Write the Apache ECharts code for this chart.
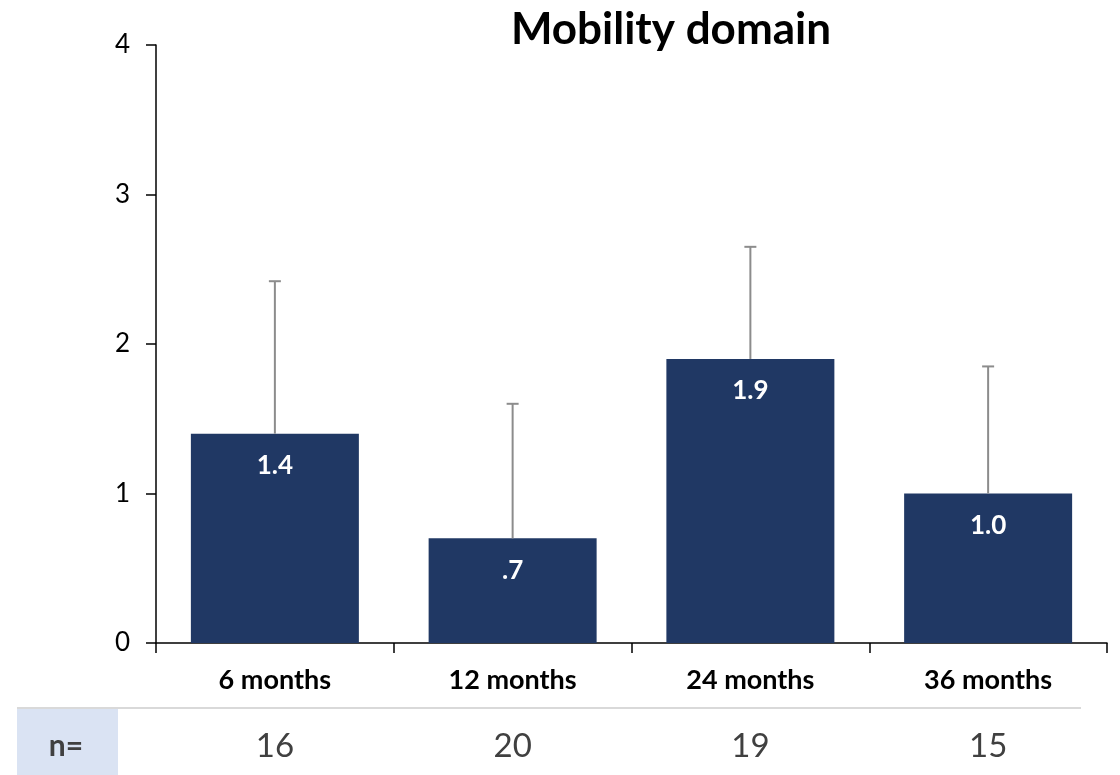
<!DOCTYPE html>
<html>
<head>
<meta charset="utf-8">
<script src="https://cdn.jsdelivr.net/npm/echarts@6/dist/echarts.min.js"></script>
<style>html,body{margin:0;padding:0;background:#fff}#c{width:1120px;height:775px}</style>
</head>
<body>
<div id="c"></div>
<script>
const categories = ['6 months', '12 months', '24 months', '36 months'];
const means = [1.4, 0.7, 1.9, 1.0];
const upperErr = [2.42, 1.6, 2.65, 1.85];
const nValues = ['16', '20', '19', '15'];
const yTicks = [0, 1, 2, 3, 4];

const FONT = 'Lato, "Open Sans", sans-serif';
const chart = echarts.init(document.getElementById('c'));

function fmt(v) {
  let s = v.toFixed(1);
  if (s.startsWith('0.')) s = s.slice(1);
  return s;
}

chart.setOption({
  animation: false,
  title: {
    text: 'Mobility domain',
    left: 666, top: 3, textAlign: 'center',
    textStyle: { fontFamily: FONT, fontSize: 44, fontWeight: 'bold', color: '#000' }
  },
  grid: { left: 156, right: 13, top: 45, bottom: 132 },
  xAxis: [{
    type: 'category', data: categories,
    axisLine: { lineStyle: { color: '#000', width: 1.5 } },
    axisTick: { show: true, length: 10, lineStyle: { color: '#000', width: 1.5 } },
    axisLabel: { fontFamily: FONT, fontSize: 27, fontWeight: 'bold', color: '#000', margin: 24 }
  }, {
    type: 'category', data: nValues, position: 'bottom', offset: 84,
    axisLine: { show: false }, axisTick: { show: false },
    axisLabel: { fontFamily: FONT, fontSize: 33, color: '#404040', margin: 3 }
  }],
  yAxis: {
    type: 'value', min: yTicks[0], max: yTicks[yTicks.length - 1], interval: 1,
    splitLine: { show: false },
    axisLine: { show: true, lineStyle: { color: '#000', width: 1.5 } },
    axisTick: { show: true, length: 10, lineStyle: { color: '#000', width: 1.5 } },
    axisLabel: { fontFamily: FONT, fontSize: 26, color: '#000', margin: 26 }
  },
  series: [{
    type: 'bar', data: means, barWidth: 168,
    itemStyle: { color: '#203864' },
    label: {
      show: true, position: 'insideTop', distance: 19,
      fontFamily: FONT, fontSize: 26, fontWeight: 'bold', color: '#fff',
      formatter: p => fmt(p.value)
    }
  }, {
    type: 'custom',
    data: categories.map((c, i) => [i, means[i], upperErr[i]]),
    z: 3,
    renderItem: function (params, api) {
      const lo = api.coord([api.value(0), api.value(1)]);
      const hi = api.coord([api.value(0), api.value(2)]);
      const style = { stroke: '#8c8c8c', lineWidth: 2 };
      return {
        type: 'group', children: [
          { type: 'line', shape: { x1: hi[0], y1: lo[1], x2: hi[0], y2: hi[1] }, style },
          { type: 'line', shape: { x1: hi[0] - 6, y1: hi[1], x2: hi[0] + 6, y2: hi[1] }, style }
        ]
      };
    }
  }],
  graphic: [
    { type: 'rect', shape: { x: 17, y: 709, width: 101, height: 66 }, style: { fill: '#dae3f3' } },
    { type: 'line', shape: { x1: 17, y1: 708, x2: 1081, y2: 708 }, style: { stroke: '#d9d9d9', lineWidth: 2 } },
    { type: 'text', x: 66, y: 746, style: { text: 'n=', fontFamily: FONT, fontSize: 30, fontWeight: 'bold', fill: '#404040', align: 'center', verticalAlign: 'middle' } }
  ]
});
</script>
</body>
</html>
